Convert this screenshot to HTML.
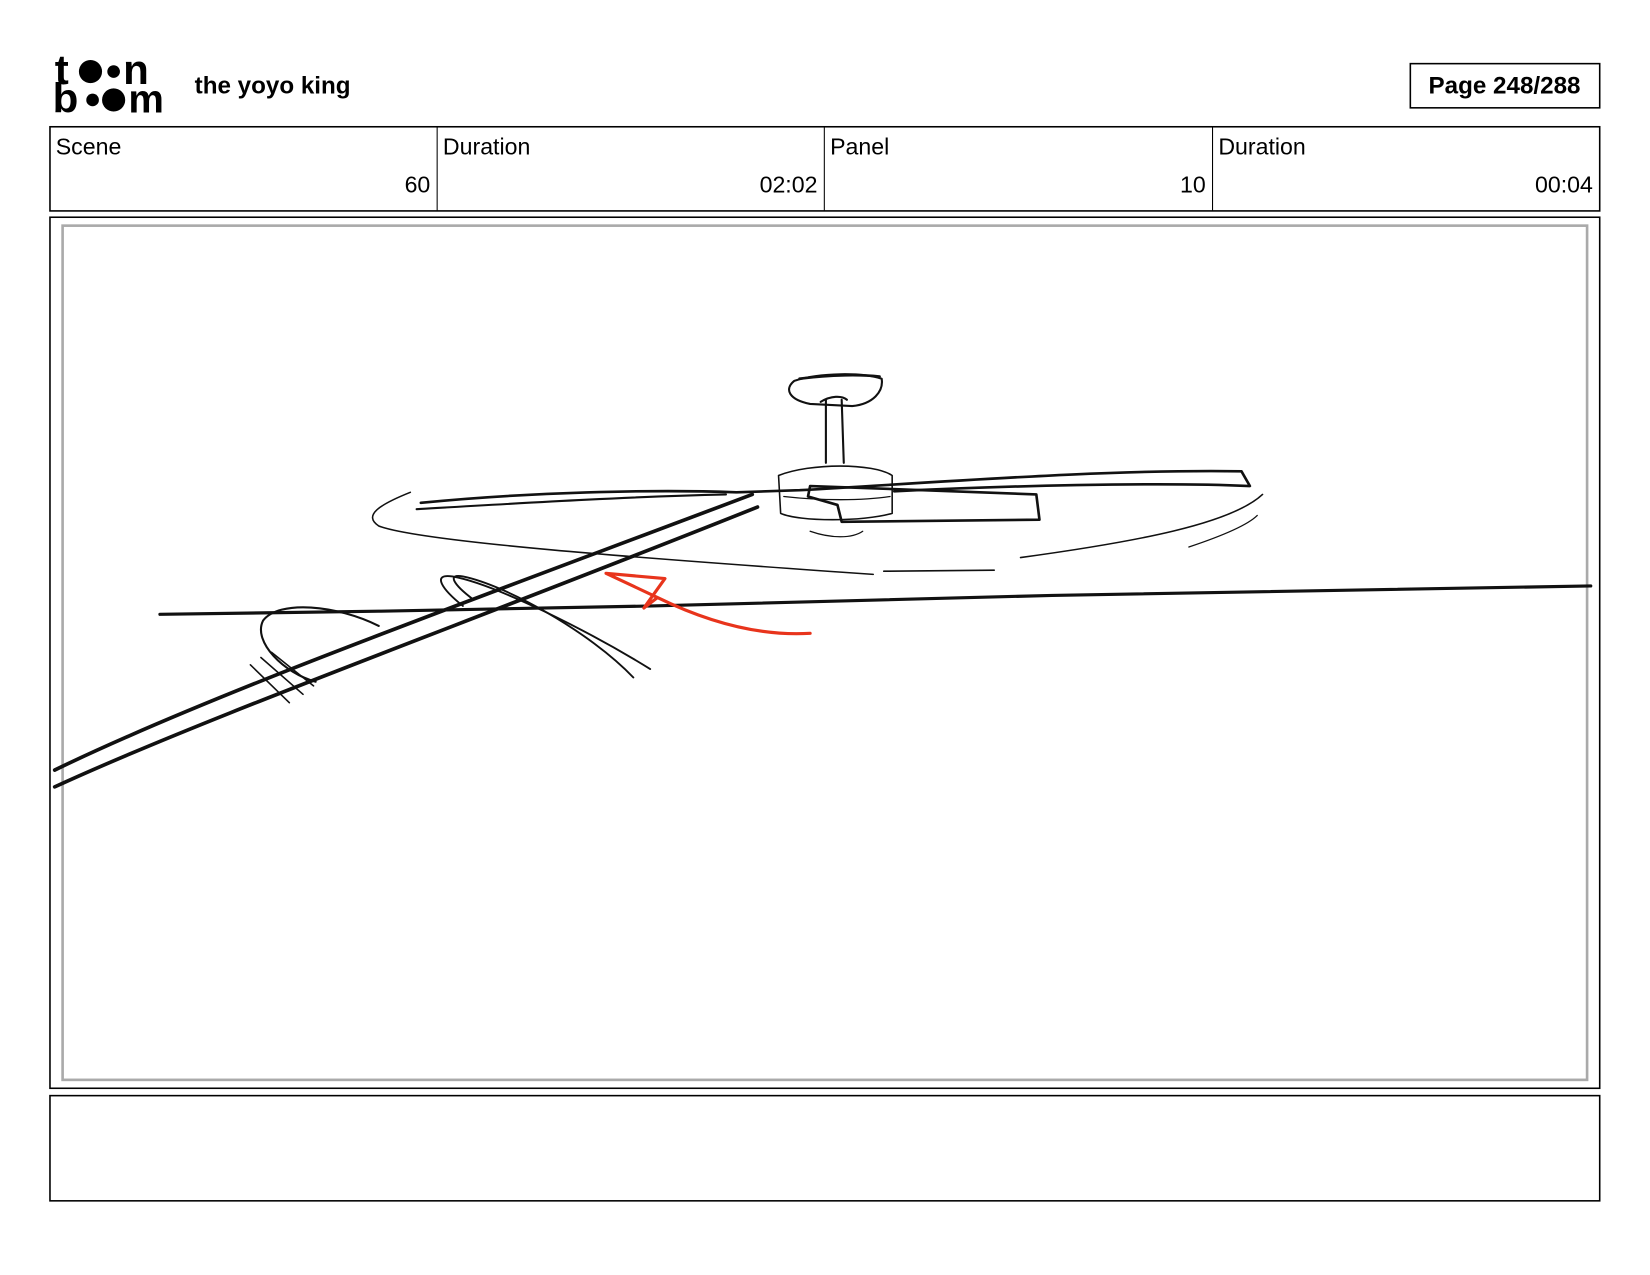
<!DOCTYPE html>
<html><head><style>html,body{margin:0;padding:0;background:#fff}svg{display:block}</style></head>
<body>
<svg width="1650" height="1275" viewBox="0 0 1568.3 1212" preserveAspectRatio="none" xmlns="http://www.w3.org/2000/svg" font-family="Liberation Sans, sans-serif">
<rect width="1568.3" height="1212" fill="#fff"/>
<!-- logo -->
<g font-weight="bold" font-size="40" fill="#000">
<text x="52" y="80" letter-spacing="-2">t</text>
<circle cx="86" cy="68" r="11"/><circle cx="108" cy="68" r="6"/>
<text x="117" y="80">n</text>
<text x="50" y="107">b</text>
<circle cx="88" cy="95" r="6"/><circle cx="108" cy="95" r="11"/>
<text x="122" y="107" font-size="38">m</text>
</g>
<text x="185" y="89" font-size="23" font-weight="bold">the yoyo king</text>
<rect x="1340.5" y="60.5" width="180" height="42" fill="none" stroke="#000" stroke-width="1.5"/>
<text x="1430" y="89" font-size="23" font-weight="bold" text-anchor="middle">Page 248/288</text>
<!-- header table -->
<rect x="47.5" y="120.5" width="1473" height="80" fill="none" stroke="#000" stroke-width="1.5"/>
<g stroke="#000" stroke-width="1"><line x1="415.5" y1="120" x2="415.5" y2="200"/><line x1="783.5" y1="120" x2="783.5" y2="200"/><line x1="1152.5" y1="120" x2="1152.5" y2="200"/></g>
<g font-size="22">
<text x="53" y="147">Scene</text><text x="421" y="147">Duration</text><text x="789" y="147">Panel</text><text x="1158" y="147">Duration</text>
<text x="409" y="183" text-anchor="end">60</text><text x="777" y="183" text-anchor="end">02:02</text><text x="1146" y="183" text-anchor="end">10</text><text x="1514" y="183" text-anchor="end">00:04</text>
</g>
<!-- panel -->
<rect x="47.5" y="206.5" width="1473" height="828" fill="none" stroke="#000" stroke-width="1.5"/>
<rect x="59.5" y="214.5" width="1449" height="812" fill="none" stroke="#aaa" stroke-width="2.5"/>
<rect x="47.5" y="1041.5" width="1473" height="100" fill="none" stroke="#000" stroke-width="1.5"/>
<!-- sketch -->
<g fill="none" stroke="#111" stroke-linecap="round" stroke-linejoin="round">
<path d="M152 584 L360 581 L620 576 L1000 566 L1512 557" stroke-width="3"/>
<path d="M52 732 C200 660 450 570 715 470" stroke-width="3.5"/>
<path d="M52 748 C200 680 450 590 720 482" stroke-width="3.5"/>
<path d="M390 468 C360 480 345 490 360 500 C400 515 600 530 830 546" stroke-width="1.5"/>
<path d="M840 543 L945 542" stroke-width="1.5"/>
<path d="M970 530 C1080 515 1170 498 1200 470" stroke-width="1.5"/>
<path d="M1130 520 C1160 510 1185 500 1195 490" stroke-width="1.2"/>
<path d="M400 478 C500 468 620 465 700 468 L760 466 C900 458 1050 446 1180 448 L1188 462 C1100 458 950 462 850 467" stroke-width="2.5"/>
<path d="M396 484 C500 478 600 472 690 470" stroke-width="2"/>
<path d="M770 462 L985 470 L988 494 L800 496 L796 480 L768 472 Z" stroke-width="2.5"/>
<path d="M740 452 C770 440 830 440 848 452 L848 488 C820 496 760 496 742 488 Z" stroke-width="1.5"/>
<path d="M745 472 C780 476 820 476 846 472" stroke-width="1.2"/>
<path d="M770 505 C790 512 810 512 820 505" stroke-width="1.2"/>
<path d="M785 380 L785 440 M800 380 L802 440 M780 382 C790 376 800 376 805 380" stroke-width="2"/>
<path d="M755 362 C780 354 820 354 838 360 C840 372 830 384 810 386 L770 384 C750 380 745 370 755 362 Z" stroke-width="2"/>
<path d="M760 360 C790 356 820 356 836 358" stroke-width="2.5"/>
<path d="M360 595 C320 575 265 570 250 590 C240 610 270 640 300 648" stroke-width="2"/>
<path d="M238 632 L275 668 M248 625 L288 660 M258 620 L298 652" stroke-width="1.5"/>
<path d="M440 576 C420 560 410 545 430 548 C470 555 560 600 618 636" stroke-width="1.8"/>
<path d="M450 570 C430 555 425 545 440 548 C480 556 560 600 602 644" stroke-width="1.8"/>
</g>
<path d="M770 602 C720 605 670 590 625 568 L612 578 L632 550 L576 545 L625 568" fill="none" stroke="#e8341c" stroke-width="3" stroke-linecap="round" stroke-linejoin="round"/>
</svg>
</body></html>
